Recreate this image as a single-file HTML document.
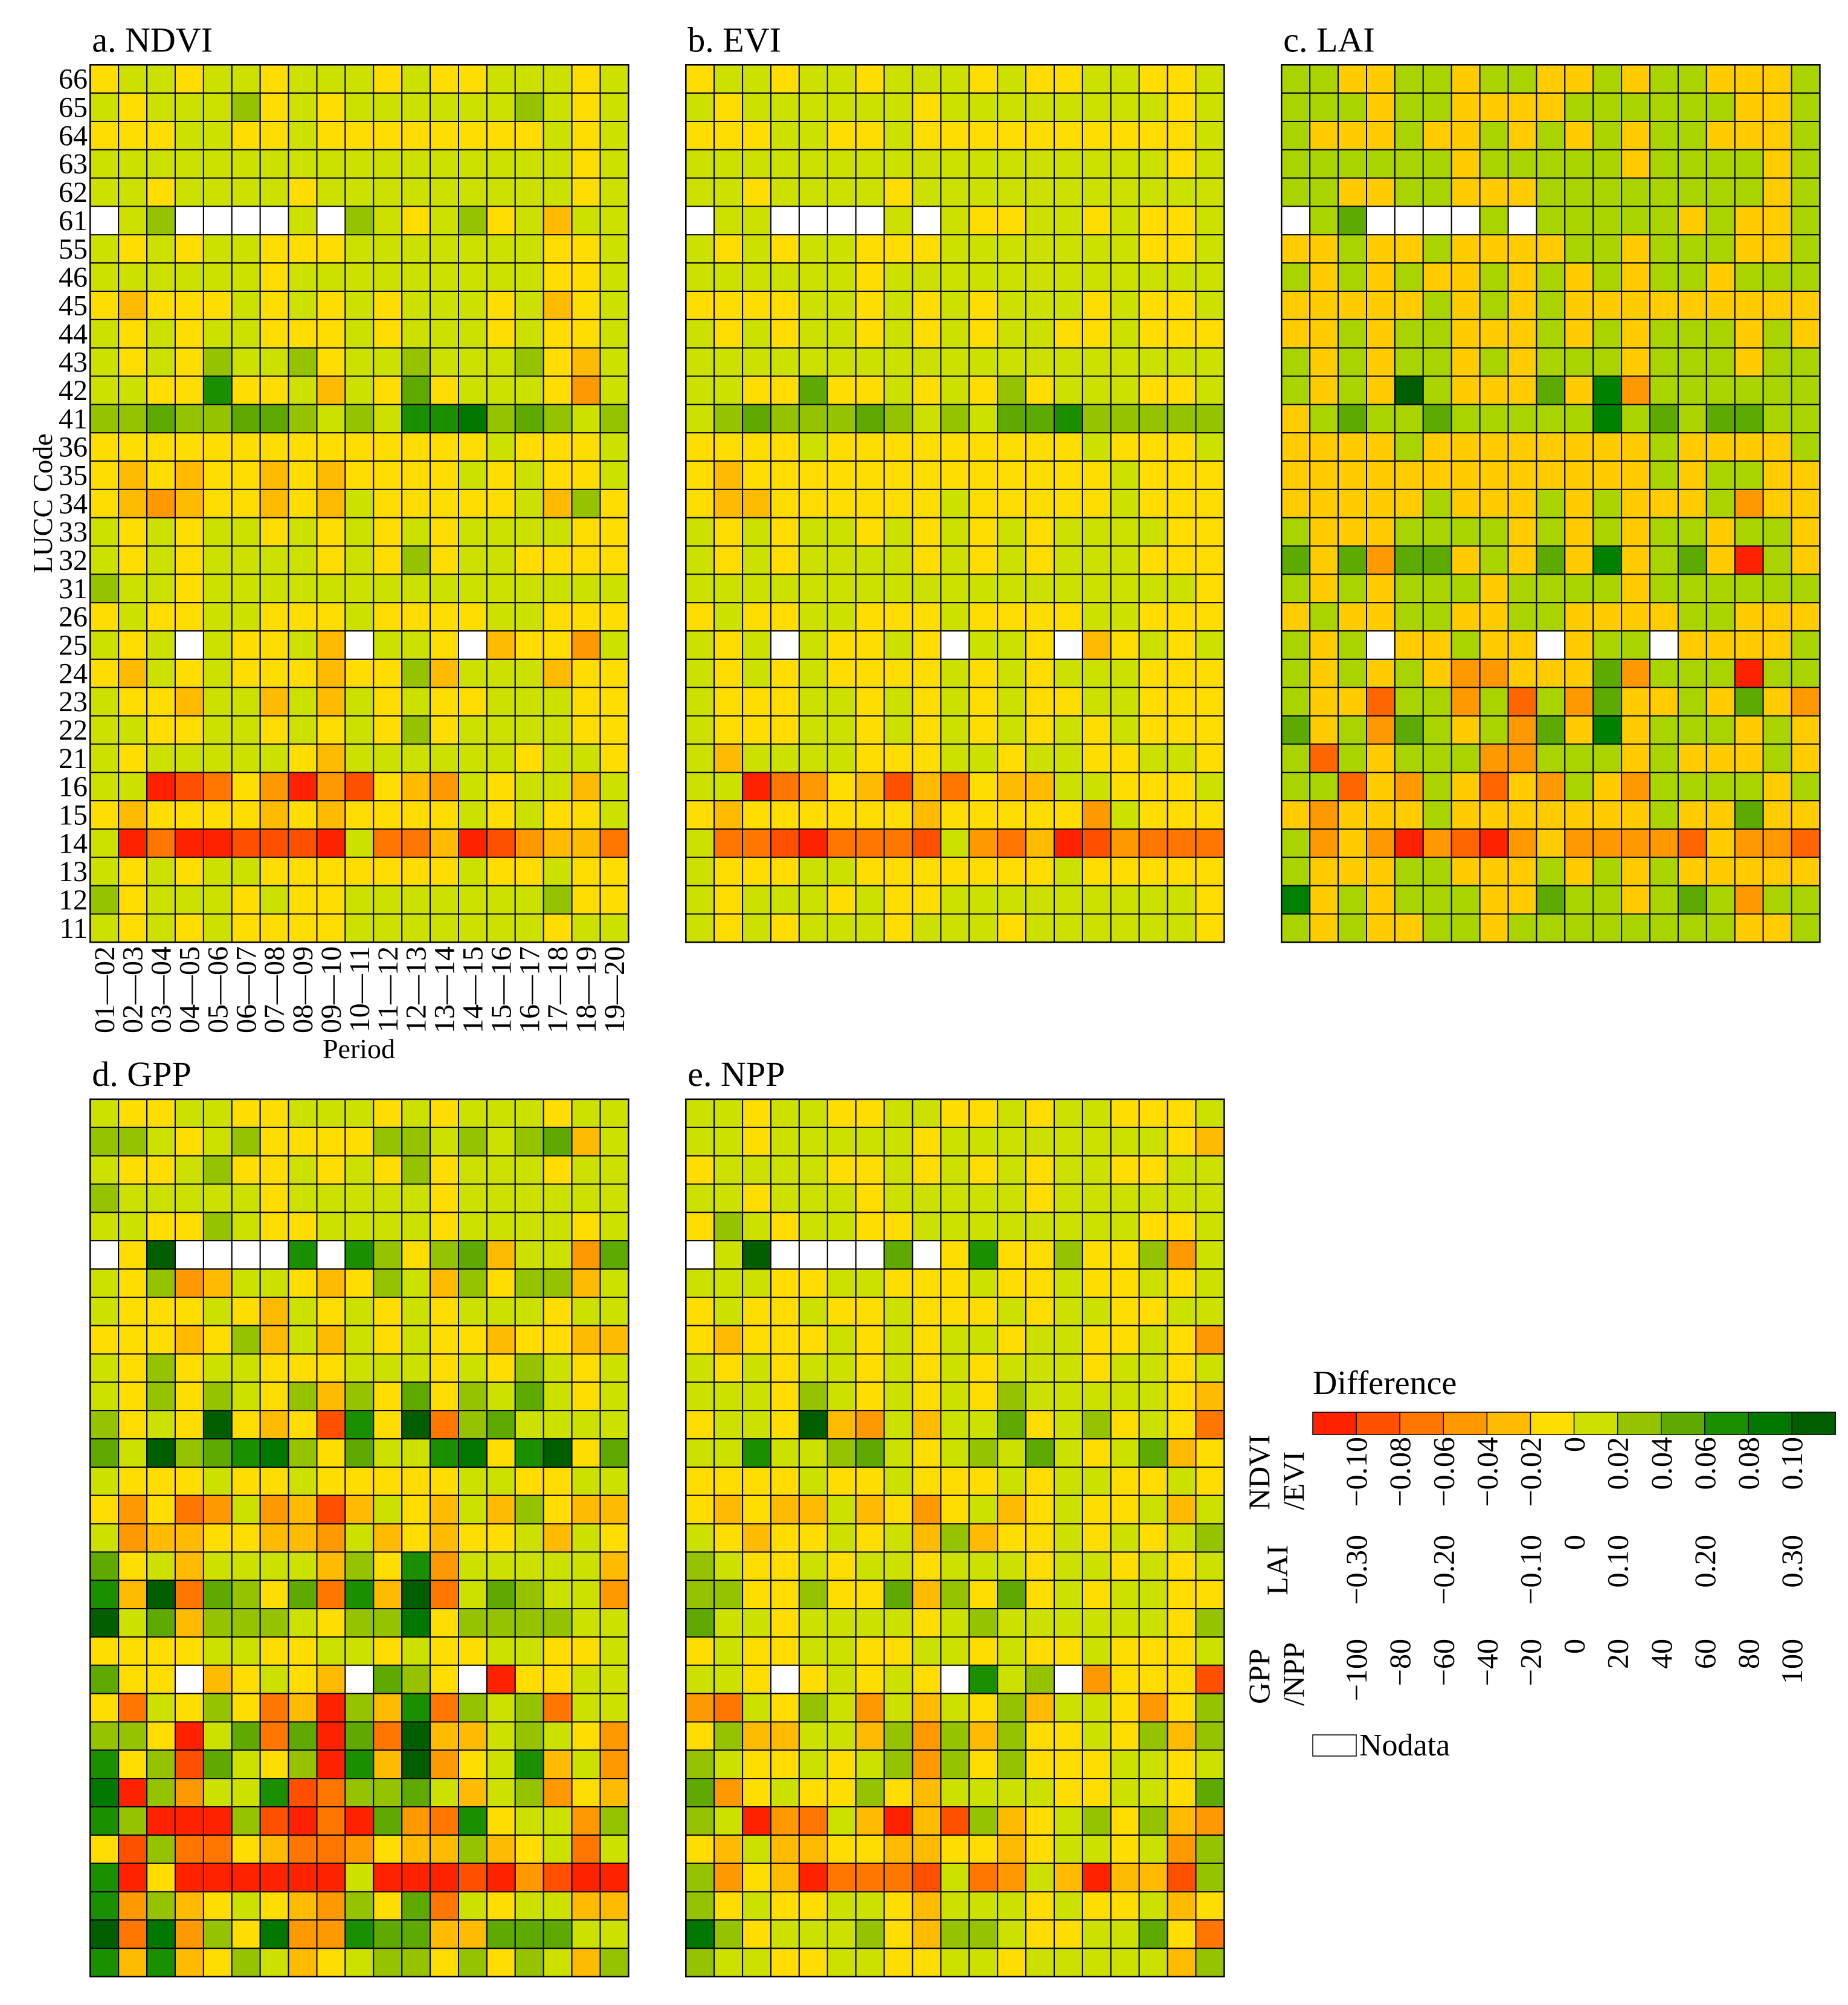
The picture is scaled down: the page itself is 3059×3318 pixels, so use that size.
<!DOCTYPE html>
<html><head><meta charset="utf-8"><title>LUCC difference heatmaps</title>
<style>
html,body{margin:0;padding:0;background:#fff;}
svg{display:block;font-family:"Liberation Serif","Times New Roman",serif;}
</style></head>
<body>
<svg id="fig" xmlns="http://www.w3.org/2000/svg" width="3059" height="3318" viewBox="0 0 3059 3318">
<rect x="0" y="0" width="3059" height="3318" fill="#fff"/>
</svg>
<script>
// ---- data (class codes per cell, rows top=66 to bottom=11, cols = periods) ----
const rowLabels = ['66','65','64','63','62','61','55','46','45','44','43','42','41','36','35','34','33','32','31','26','25','24','23','22','21','16','15','14','13','12','11'];
const periodLabels = ['01\u201402','02\u201403','03\u201404','04\u201405','05\u201406','06\u201407','07\u201408','08\u201409','09\u201410','10\u201411','11\u201412','12\u201413','13\u201414','14\u201415','15\u201416','16\u201417','17\u201418','18\u201419','19\u201420'];
const legendTicksVI = ['\u22120.10','\u22120.08','\u22120.06','\u22120.04','\u22120.02','0','0.02','0.04','0.06','0.08','0.10'];
const legendTicksLAI = ['\u22120.30','','\u22120.20','','\u22120.10','0','0.10','','0.20','','0.30'];
const legendTicksPP = ['\u2212100','\u221280','\u221260','\u221240','\u221220','0','20','40','60','80','100'];

const ndviData = [
"y g g y g g y g g g y g y y g g g y g",
"g y g g g G y g y g g g g g g G g y g",
"y y y g g y y g y y y y y y y y g y g",
"g g g g g g g g g g g g g g g g g y g",
"g g y g g g g y g g g g g g g g g y g",
"w g G w w w w g w G g y g G y g a g g",
"g y g y g g y y y g g g g g g g y y g",
"g g g g g g y g g g g g g g g g y y g",
"y a y y y g y g y g y g g g y g a y g",
"g y g y g g y y y g y g g g y g y y g",
"g y g y G g g G y g g G g g g G y a g",
"g g y y d y y g a g y m y g g g y O g",
"G G m G G m m G g G g d d D G m G g G",
"y y y y y y y y y y y y y y g y y y g",
"y a y a y y a y a y y y y g y g y y g",
"y a O a y y a y a g y y y y y g a G y",
"g y g y g g y g y g y g y g g g g y y",
"g y g y g g g g y g y G y g g y y y y",
"G g g y g g g g g g g g g g g g g g g",
"y g y y g g y y y g y y y y g g y y y",
"g y g w g y y g a w g g y w a y y O g",
"y a g y g y y y a y y G a g g g a y y",
"g y y a g g a g a g y g y y g g g y y",
"g g y y g g y g y g y G y g g g g y y",
"g y g g g g g y a g g g g g g y g g y",
"g g r R o y O r O R y a O g y g g a g",
"y a y y y y a y a y y y y g y g y y g",
"g r o r r R R R r g o o a r R O a a o",
"g y g y g g y y y y y y y g y y g y y",
"G y g g g y g y y g g g g g g g G y y",
"g y g y g y y y y g g g g g g g y g g"];

const eviData = [
"y g g y g g y g g g y g y y g g y y g",
"g y g g g g g g y g g g g g g g g y g",
"y y y g g y y g y y y y y y y y y y g",
"g g g g g g g g g g g g g g g g g y g",
"g g y g g g g y g g g g g g g g g g g",
"w g g w w w w g w g y y g g y g y y g",
"g y g y g g y y y g g g g g g g y y g",
"g g g g g g y g g g g g g g g g g g g",
"y y y y g g y g y g y g g g y g y y g",
"g y g y g g y g y g y g g y y g y y y",
"g g g g g g g g g g g g g g g g g g g",
"g g y y m y y g y g y G y g g g y y g",
"g G m G G G m G g G g m m d G G G G G",
"y y y y g y y y y y y y y y g y y y g",
"y a y y y y y y y y y y y y y g y y y",
"y a a y y y y y y g y y y y y g y y y",
"g y g y g g y g y g y g y g g g g y y",
"g y g y g g g g y g y g y g g g y y y",
"g g g g g g g g g g g g g g g g g g y",
"y g y y g g y y y g y y y y g g y y y",
"g y g w g y y g y w g g y w a y g y g",
"g y g y g y y y y g y g y g g g y y y",
"g y y y g g y g y g y g y y g g y y y",
"g y y y g g y g y g y g y g y g y y y",
"g a g g g g y y y g g y g g y y g g y",
"g g r o O y a R a o y a a g g y y y g",
"y a y y y y y y a y y y y y O g y y y",
"g o o R r o o o R g O o a r R O o o o",
"g y y y g g y y y y y y y g y y y y y",
"g y g g g y g y y g g g g g g g g g y",
"g y g y g g g y g g g y g g g g g g y"];

const laiData = [
"g g y y g g y g g y y g y g g y y y g",
"g g g y g g y y y y g g g g g g y y g",
"g y y y g y y g y g y g y g g y y y g",
"g g g g g g y g g g g g y g g g g y g",
"g g y y g g y y y g g g g g g g g y g",
"w g m w w w w g w g g g g g y g y y g",
"y y g y y g y y y y g g y g g g y y g",
"g y g y g y y g y g y g y g g y g g g",
"y y y y y g y g y g y y y y y y y y y",
"y y g y g g y y y g y g y g g g y g y",
"g y g y g g y g y g g g y g g g y g g",
"g y g y D g y y y m y d O g g g g g g",
"y g m g g m g g g g g d g m g m m g g",
"y y y y g y y y y y y y y g y y y y g",
"y y y y y y y y y y y y y g y g g y y",
"y y y y y g y y y g y g y y y g O y y",
"g y y y g g g g y g y g y g g y g g y",
"m y m O m m y g y m y d y g m y r g y",
"g y g y g g g y g g g g y g g g g g g",
"y g y y g g y y g g y y y y g g y y y",
"g y g w y y g y y w y g g w y y y y g",
"g y g y g y O O y y y m O g g g r g g",
"g y y o g g O g o g O m y y g y m y O",
"m y g O m g y g O m y d y g g g y g y",
"g o g y g g g O O g g g y g y y y g y",
"g g o y O g y o y O g y O g g g g y g",
"y O y y y g y y y y y y y g y y m y y",
"g O y O r O o r O y O O O O o y O O o",
"g y y y g g y y y g y g y g y y y y y",
"d y g y g g g y y m g g y g m g O g g",
"g y g y y g g y g g g g g g g g y y g"];

const gppData = [
"g y y g g y y g g g y g y g g g y g g",
"G G g y g G y y y y G G g G g G m a g",
"g y y g G y y g y g y G y g g g y g g",
"G g g g g g y g g g g g y g g g g g g",
"g g y y G g y y g g g g y g g g g y g",
"w y K w w w w d w d G y G m a g g O m",
"g y G O a g g y a y G g a G y G G a g",
"g y y y g y a g y g y g y g g g y g g",
"y y y a y G a g a g y g y y a y y a a",
"g y G y g g y y y g g g y g y G g y g",
"g y G y G g y G a G y m y G g m g y g",
"G y g y K y a y R d y K o G m g g g g",
"m g K G m d D G y m g g d D y d K y m",
"g y y y g y y g y y y y y g g y y g g",
"y O y o O g O a R a g y a g a G y a a",
"g O a a y y a a O g a y a y y g a g y",
"m y g a g g g g a G y d O g g g g g a",
"d a K o m G y m o d a K o g m G g g O",
"K g m a G G G g y G G D y G G G G g g",
"y y y y g g y y g g y g y y g g y y g",
"m y y w a y g y a w m G y w r y y g g",
"y o g y G y o a r G a d o G g G o g g",
"G G y r g m o m r m o K a a g G g y O",
"d y G R m g y G r d a K O y g d a g O",
"D r G O g g d R o G G m g a g G O y a",
"d G r r r G R r o r m O o d y g g O G",
"y R G o o y a o o O y a a G a y g o g",
"d r y r r r r r r g r r r R r O R r r",
"d O G a y g y a O G y m o g y g g a a",
"K o D O G y D O O d m m a a m m m g g",
"d a d a y G g a y g G G y G y G g a G"];

const nppData = [
"g g y g g y y g g y y g y g g y y y g",
"g g y g g g g g y g g g g g g g g y a",
"y g g g g y y g y g y g y g g y y g g",
"g g y g g g y g g g g g y g g g g g g",
"y G g y g g y y g g g g g g g g y y g",
"w g K w w w w m w y d y y G y y G O g",
"g g g y y g g y y y g y y g y y g y g",
"y g y y g y y g y y y g y g g y y g g",
"y a y y y g y g y g g y g g y y g y O",
"g y g y g g y g y g y g g g y g g y g",
"g g g y G g y g y g y G g g g g g y a",
"y g g y K a O g a g g m y g G y g y o",
"g g d g g G m g y g G g m g y g m a y",
"y y y y g y y g y y y g y g g y y g y",
"y a y a a g a y O y g a y g y y g a g",
"g y a y y g y g a G a y y g y g y g G",
"G g y y g y g g y g g g y g g y g y g",
"G G y y G y y m a G y m y g y g g y y",
"m g g y g g g g y g G g g g g g g y G",
"y g y y g g y y g g y g y y g y y y g",
"g g y w y g y g y w d g G w O y y y R",
"O o g y G g O g a g y G a g g y O y G",
"y G a a g g a G O G a G y y g y G a G",
"G g y y g y g G O G y G y y y g g y g",
"m O y g y y G y a g g g g y y g g y m",
"G g r O o g a r a R G a y g G y G a O",
"y a g a a y y a a y y a y g g y g O G",
"G O y a r o o o R g o O g a r a a R G",
"G y g y y g g y a g g g y g y y g a y",
"D G y g g g G y a G G g y y g g m y o",
"G g g y y g g y y g g y g g g g g a G"];

// class code letters -> ordinal class (0 = most negative, 11 = most positive)
const classOf = {r:0,R:1,o:2,O:3,a:4,y:5,Y:5,g:6,G:7,m:8,d:9,D:10,K:11};
const paletteVI = ['#FF2200','#FF5000','#FF7700','#FF9900','#FFBB00','#FFDD00','#CCE100','#96C300','#5EAA00','#1A9000','#007800','#005E00'];
const paletteLAI = ['#FF2200','#FF5000','#FF6600','#FF9900','#FFBB00','#FFCC00','#AAD400','#96C300','#5DAA00','#008000','#005E00','#005E00'];

const NS = 'http://www.w3.org/2000/svg';
const svg = document.getElementById('fig');
const CW = 46.9, CH = 46.84;

function mk(tag, attrs, parent){
  const e = document.createElementNS(NS, tag);
  for (const k in attrs) e.setAttribute(k, attrs[k]);
  (parent || svg).appendChild(e);
  return e;
}
function txt(str, attrs, parent){
  const t = mk('text', attrs, parent);
  t.textContent = str;
  return t;
}
function xScale(x0, c){ return x0 + c * CW; }
function yScale(y0, r){ return y0 + r * CH; }

function drawPanel(id, title, data, palette, x0, y0){
  const g = mk('g', {});
  
  
  const t = txt(title, {x: x0 + 3, y: y0 - 22, 'font-size': 58, fill: '#000'}, g);
  
  
  data.forEach((rowStr, r) => {
    const cells = rowStr.trim().split(/\s+/);
    cells.forEach((code, c) => {
      const fill = code === 'w' ? '#FFFFFF' : palette[classOf[code]];
      const rc = mk('rect', {x: xScale(x0, c), y: yScale(y0, r), width: CW, height: CH, fill: fill, stroke: '#000', 'stroke-width': 2}, g);
      
      
    });
  });
  const border = mk('rect', {x: x0, y: y0, width: CW * periodLabels.length, height: CH * rowLabels.length, fill: 'none', stroke: '#000', 'stroke-width': 2.5}, g);
  
  
}

drawPanel('ndvi', 'a. NDVI', ndviData, paletteVI, 149.3, 107.3);
drawPanel('evi', 'b. EVI', eviData, paletteVI, 1135.3, 107.3);
drawPanel('lai', 'c. LAI', laiData, paletteLAI, 2121.3, 107.3);
drawPanel('gpp', 'd. GPP', gppData, paletteVI, 149.3, 1819);
drawPanel('npp', 'e. NPP', nppData, paletteVI, 1135.3, 1819);

// y axis labels for panel a
rowLabels.forEach((lab, r) => {
  const t = txt(lab, {x: 145, y: yScale(107.3, r) + CH / 2 + 16, 'font-size': 48, 'text-anchor': 'end'});
  
  
});
const yt = txt('LUCC Code', {transform: 'translate(86,833) rotate(-90)', 'font-size': 46, 'text-anchor': 'middle'});



// x axis labels for panel a
periodLabels.forEach((lab, c) => {
  const cx = xScale(149.3, c) + CW / 2;
  const t = txt(lab, {transform: 'translate(' + (cx + 16) + ',1566) rotate(-90)', 'font-size': 48, 'text-anchor': 'end'});
  
  
});
const xt = txt('Period', {x: 594, y: 1751, 'font-size': 46, 'text-anchor': 'middle'});



// legend
const LX = 2173, LY = 2337, LW = 72.1, LH = 37;
const lt = txt('Difference', {x: LX, y: 2307, 'font-size': 56});


paletteVI.forEach((col, i) => {
  const s = mk('rect', {x: LX + i * LW, y: LY, width: LW, height: LH, fill: col, stroke: '#000', 'stroke-width': 1.5});
  
  
});
function tickRow(ticks, topY, name){
  ticks.forEach((lab, i) => {
    if (!lab) return;
    const bx = LX + (i + 1) * LW + 17;
    const t = txt(lab, {transform: 'translate(' + bx + ',' + topY + ') rotate(-90)', 'font-size': 50, 'text-anchor': 'end'});
    
    
  });
}
tickRow(legendTicksVI, 2378, 'legend-vi');
tickRow(legendTicksLAI, 2540, 'legend-lai');
tickRow(legendTicksPP, 2712, 'legend-pp');
function rowTitle(str, bx, startY, name){
  const t = txt(str, {transform: 'translate(' + bx + ',' + startY + ') rotate(-90)', 'font-size': 50, 'text-anchor': 'start'});
  
  
}
rowTitle('NDVI', 2101, 2499, 'legend-row-ndvi');
rowTitle('/EVI', 2158, 2499, 'legend-row-evi');
rowTitle('LAI', 2131, 2640, 'legend-row-lai');
rowTitle('GPP', 2101, 2820, 'legend-row-gpp');
rowTitle('/NPP', 2158, 2823, 'legend-row-npp');
const nd = mk('rect', {x: LX, y: 2871, width: 72, height: 35, fill: '#fff', stroke: '#000', 'stroke-width': 1.5});


const ndt = txt('Nodata', {x: 2250, y: 2905, 'font-size': 52});


</script>
</body></html>
